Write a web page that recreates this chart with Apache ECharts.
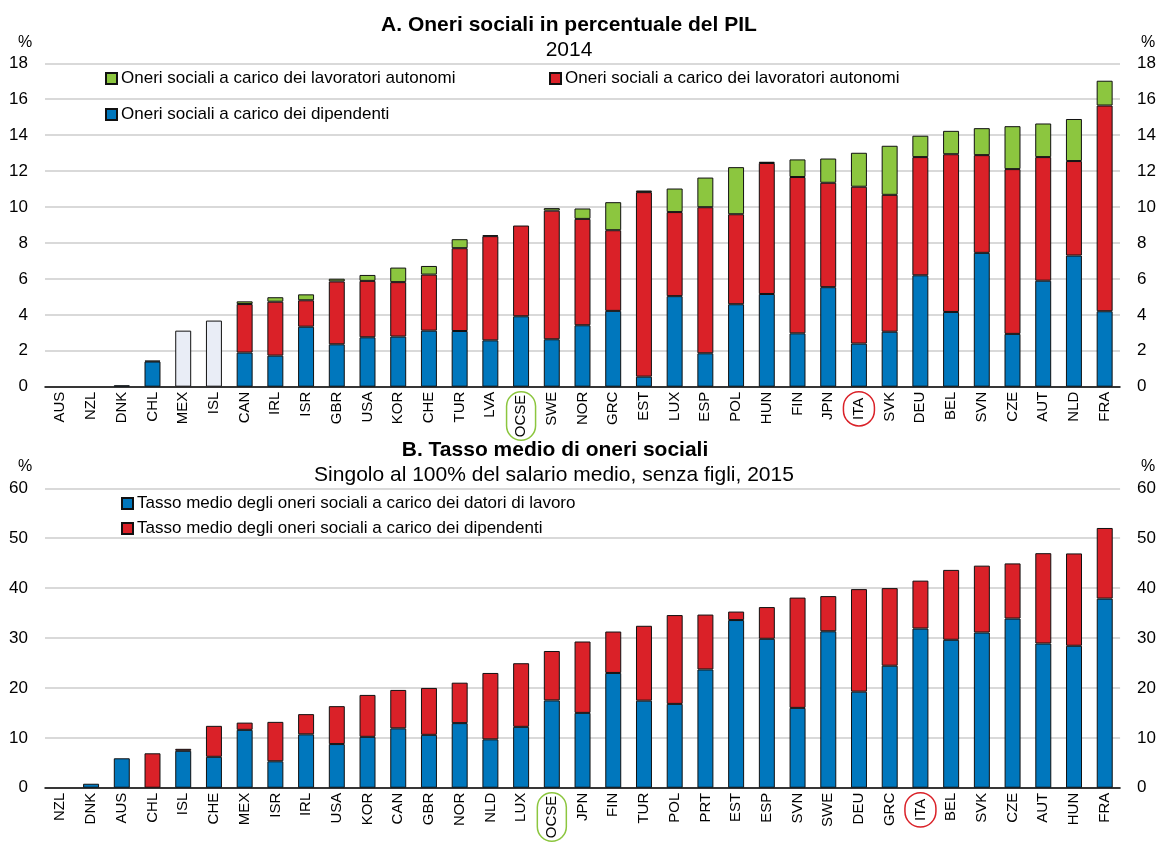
<!DOCTYPE html>
<html>
<head>
<meta charset="utf-8">
<script src="https://cdn.jsdelivr.net/npm/echarts@6/dist/echarts.min.js"></script>
<style>
  html, body { margin: 0; padding: 0; background: #fff; }
  #chart { width: 1159px; height: 845px; }
</style>
</head>
<body>
<div id="chart"></div>
<script>
// Pannello A: oneri sociali in % del PIL, 2014
const catsA = ['AUS','NZL','DNK','CHL','MEX','ISL','CAN','IRL','ISR','GBR','USA','KOR','CHE','TUR','LVA','OCSE','SWE','NOR','GRC','EST','LUX','ESP','POL','HUN','FIN','JPN','ITA','SVK','DEU','BEL','SVN','CZE','AUT','NLD','FRA']
const dipendentiA = [null,null,0.08,1.4,null,null,1.9,1.73,3.34,2.36,2.75,2.79,3.12,3.1,2.58,3.92,2.64,3.42,4.22,0.56,5.04,1.86,4.59,5.16,2.97,5.54,2.4,3.06,6.2,4.16,7.45,2.94,5.9,7.3,4.2]
const rossoA = [null,null,null,0.05,null,null,2.7,3.0,1.47,3.5,3.14,3.03,3.12,4.61,5.8,5.05,7.16,5.92,4.49,10.27,4.68,8.13,5.01,7.29,8.7,5.81,8.73,7.62,6.58,8.78,5.44,9.17,6.88,5.26,11.45]
const verdeA = [null,null,null,null,null,null,0.15,0.25,0.33,0.15,0.33,0.81,0.48,0.5,0.05,null,0.14,0.58,1.56,0.09,1.31,1.65,2.62,0.07,0.98,1.35,1.89,2.73,1.19,1.3,1.5,2.39,1.87,2.34,1.38]
const totaleA = [null,null,null,null,3.12,3.68,null,null,null,null,null,null,null,null,null,null,null,null,null,null,null,null,null,null,null,null,null,null,null,null,null,null,null,null,null]
const ticksA = [0, 18, 2]

// Pannello B: tasso medio di oneri sociali, 2015
const catsB = ['NZL','DNK','AUS','CHL','ISL','CHE','MEX','ISR','IRL','USA','KOR','CAN','GBR','NOR','NLD','LUX','OCSE','JPN','FIN','TUR','POL','PRT','EST','ESP','SVN','SWE','DEU','GRC','ITA','BEL','SVK','CZE','AUT','HUN','FRA']
const datoriB = [null,0.8,5.9,null,7.4,6.2,11.6,5.3,10.7,8.75,10.2,11.9,10.6,12.95,9.7,12.2,17.5,15.0,23.0,17.45,16.8,23.7,33.6,29.85,16.0,31.35,19.25,24.45,31.9,29.65,31.1,33.9,28.9,28.45,37.9]
const dipendentiB = [null,null,null,6.9,0.4,6.2,1.45,7.9,4.05,7.6,8.4,7.7,9.4,8.1,13.3,12.75,9.9,14.3,8.3,15.0,17.8,11.0,1.7,6.35,22.1,7.05,20.55,15.55,9.6,14.0,13.4,11.05,18.1,18.5,14.15]
const ticksB = [0, 60, 10]

const BLUE = '#0077bd'
const RED = '#da2128'
const GREEN = '#8cc63f'
const GREY = '#e9edf6'
const FONT = 'Liberation Sans'

const legendText = {
  verdeA: 'Oneri sociali a carico dei lavoratori autonomi',
  rossoA: 'Oneri sociali a carico dei lavoratori autonomi',
  bluA: 'Oneri sociali a carico dei dipendenti',
  bluB: 'Tasso medio degli oneri sociali a carico dei datori di lavoro',
  rossoB: 'Tasso medio degli oneri sociali a carico dei dipendenti'
}

let chart = echarts.init(document.getElementById('chart'), null, { renderer: 'canvas' })

function bar(name, data, color, axis, stack) {
  return {
    name: name,
    type: 'bar',
    stack: stack,
    xAxisIndex: axis,
    yAxisIndex: axis * 2,
    data: data,
    barWidth: '52%',
    itemStyle: { color: color, borderColor: '#111', borderWidth: 1 },
    emphasis: { disabled: true }
  }
}

function xAxis(cats, grid) {
  return {
    type: 'category',
    gridIndex: grid,
    data: cats,
    axisLine: { lineStyle: { color: '#000', width: 1.5 } },
    axisTick: { inside: true, length: 5, lineStyle: { color: '#000', width: 1.5 } },
    axisLabel: {
      rotate: 90,
      interval: 0,
      margin: 5,
      fontFamily: FONT,
      fontSize: 15,
      color: '#000',
      formatter: v => v === 'OCSE' ? '{g|OCSE}' : v === 'ITA' ? '{r|ITA}' : v,
      rich: {
        g: { fontFamily: FONT, fontSize: 15, color: '#000', borderColor: GREEN, borderWidth: 1.5, borderRadius: 16, padding: [7, 3, 7, 3] },
        r: { fontFamily: FONT, fontSize: 15, color: '#000', borderColor: RED, borderWidth: 1.5, borderRadius: 16, padding: [8, 6, 8, 6] }
      }
    }
  }
}

function yAxis(grid, ticks, pos) {
  return {
    type: 'value',
    gridIndex: grid,
    position: pos,
    min: ticks[0],
    max: ticks[1],
    interval: ticks[2],
    axisLine: { show: false },
    axisTick: { show: false },
    axisLabel: { margin: 17, fontFamily: FONT, fontSize: 17, color: '#000' },
    splitLine: { show: pos === 'left', lineStyle: { color: '#cccccc', width: 1.5 } }
  }
}

function legend(names, left, top, orient) {
  return {
    data: names,
    left: left,
    top: top,
    orient: orient || 'horizontal',
    itemWidth: 11,
    itemHeight: 11,
    itemGap: 8,
    icon: 'rect',
    selectedMode: false,
    formatter: n => legendText[n],
    textStyle: { fontFamily: FONT, fontSize: 17, color: '#000', padding: [0, 0, 0, -1] }
  }
}

const titleStyle = { fontFamily: FONT, fontSize: 21, color: '#000' }
const pctStyle = { fontFamily: FONT, fontSize: 16, color: '#000', fontWeight: 'normal' }

chart.setOption({
  animation: false,
  backgroundColor: '#fff',
  title: [
    { text: 'A. Oneri sociali in percentuale del PIL', left: 564, top: 10, textAlign: 'center', textStyle: { ...titleStyle, fontWeight: 'bold' } },
    { text: '2014', left: 564, top: 35, textAlign: 'center', textStyle: { ...titleStyle, fontWeight: 'normal' } },
    { text: 'B. Tasso medio di oneri sociali', left: 550, top: 435, textAlign: 'center', textStyle: { ...titleStyle, fontWeight: 'bold' } },
    { text: 'Singolo al 100% del salario medio, senza figli, 2015', left: 549, top: 460, textAlign: 'center', textStyle: { ...titleStyle, fontWeight: 'normal' } },
    { text: '%', left: 20, top: 30, textAlign: 'center', textStyle: pctStyle },
    { text: '%', left: 1143, top: 30, textAlign: 'center', textStyle: pctStyle },
    { text: '%', left: 20, top: 454, textAlign: 'center', textStyle: pctStyle },
    { text: '%', left: 1143, top: 454, textAlign: 'center', textStyle: pctStyle }
  ],
  legend: [
    legend(['verdeA'], 100, 65),
    legend(['rossoA'], 544, 65),
    legend(['bluA'], 100, 101),
    legend(['bluB', 'rossoB'], 116, 490, 'vertical')
  ],
  grid: [
    { left: 45, right: 39, top: 63.3, height: 323.4 },
    { left: 45, right: 38, top: 488.3, height: 315 }
  ],
  xAxis: [xAxis(catsA, 0), xAxis(catsB, 1)],
  yAxis: [
    yAxis(0, ticksA, 'left'), yAxis(0, ticksA, 'right'),
    yAxis(1, ticksB, 'left'), yAxis(1, ticksB, 'right')
  ],
  series: [
    bar('bluA', dipendentiA, BLUE, 0, 'a'),
    bar('rossoA', rossoA, RED, 0, 'a'),
    bar('verdeA', verdeA, GREEN, 0, 'a'),
    bar('totaleA', totaleA, GREY, 0, 'a'),
    bar('bluB', datoriB, BLUE, 1, 'b'),
    bar('rossoB', dipendentiB, RED, 1, 'b')
  ]
})
</script>
</body>
</html>
